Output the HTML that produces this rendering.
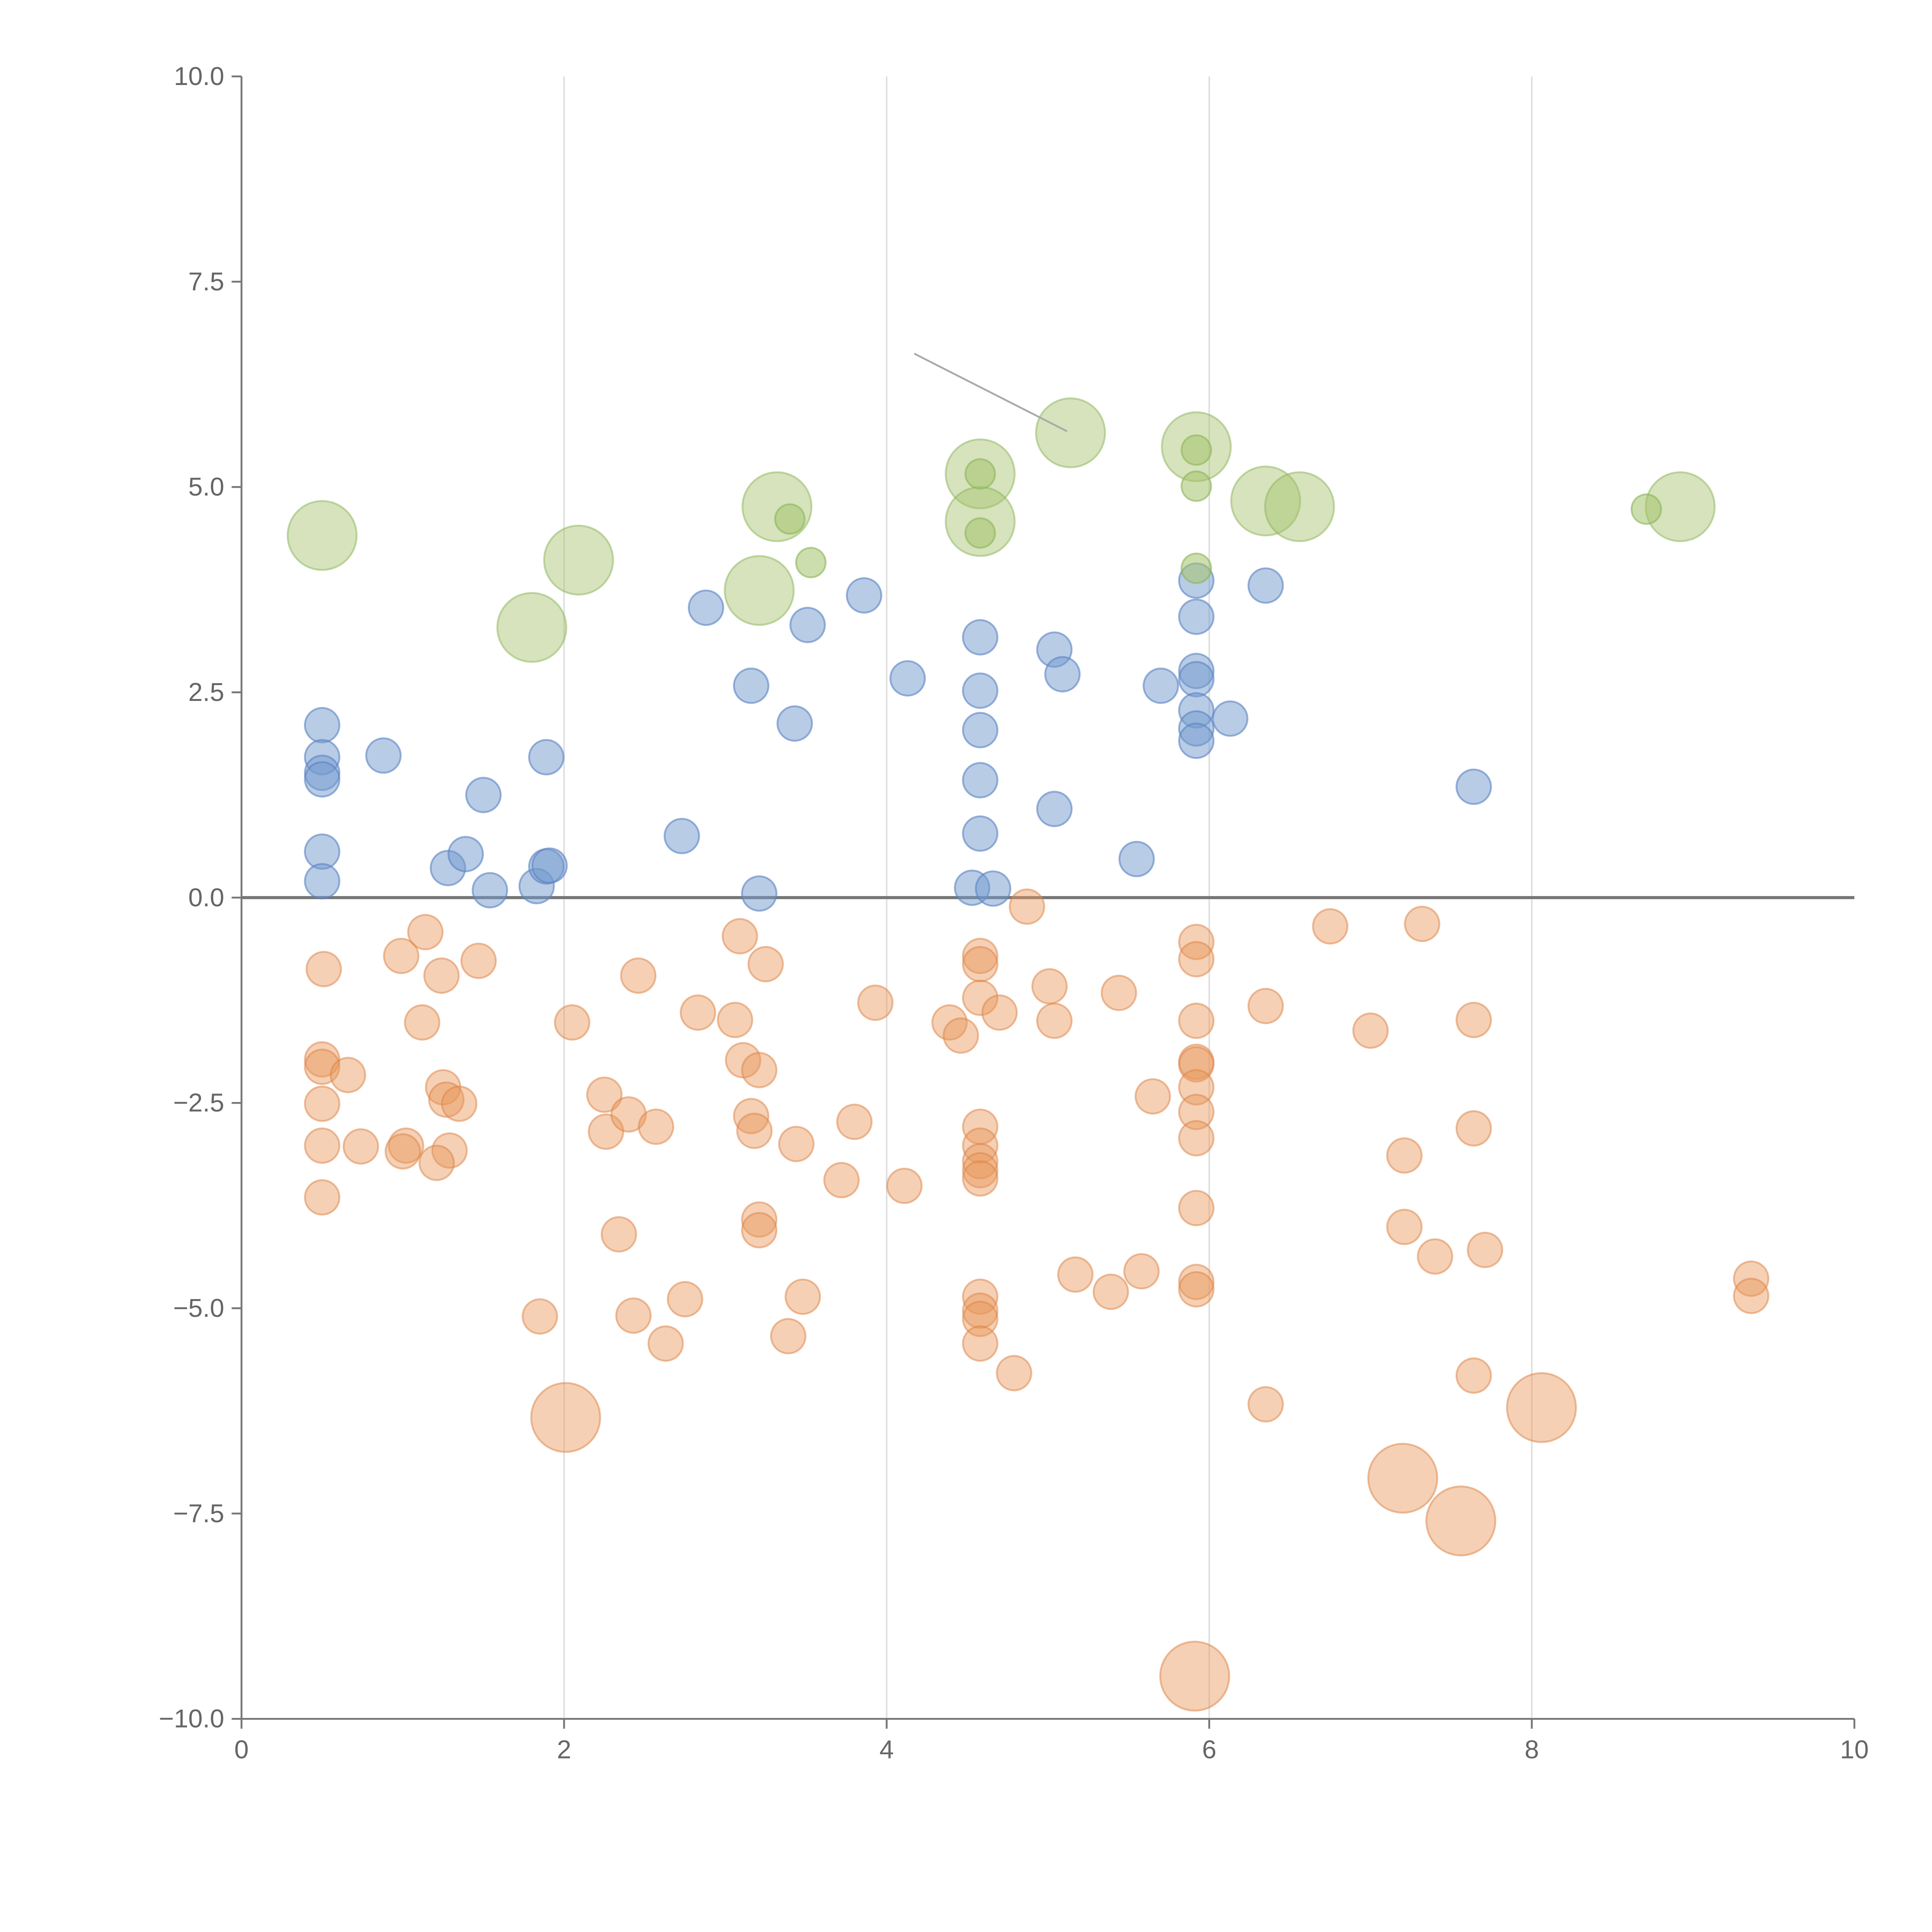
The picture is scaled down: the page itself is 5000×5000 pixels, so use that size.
<!DOCTYPE html>
<html><head><meta charset="utf-8"><style>
html,body{margin:0;padding:0;background:#fff}
svg{display:block}
text{font-family:"Liberation Sans",sans-serif;fill:#666;font-size:21px}
</style></head><body>
<svg id="chart" width="5000" height="5000" viewBox="0 0 1568 1568" xmlns="http://www.w3.org/2000/svg">
<g id="grid"></g>
<g id="axes"></g>
<g id="marks"></g>
</svg>
<script>
const xTicks=[0,2,4,6,8,10];
const yTicks=[10,7.5,5,2.5,0,-2.5,-5,-7.5,-10];
const greenBigX=[0.5,2.09,1.80,3.21,3.32,4.58,4.58,5.14,5.92,6.35,6.56,8.92];
const greenBigY=[4.41,4.11,3.29,3.74,4.76,5.16,4.58,5.66,5.49,4.83,4.76,4.76];
const greenSmallX=[3.40,3.53,4.58,4.58,5.92,5.92,5.92,8.71];
const greenSmallY=[4.61,4.08,5.16,4.44,5.45,5.01,4.01,4.73];
const blueX=[0.5,0.5,0.5,0.5,0.5,0.5,0.88,1.28,1.39,1.50,1.54,1.83,1.89,1.89,1.91,2.73,2.88,3.16,3.21,3.43,3.51,3.86,4.13,4.58,4.58,4.58,4.58,4.58,4.53,4.66,5.04,5.09,5.04,5.55,5.70,5.92,5.92,5.92,5.92,5.92,5.92,5.92,6.13,6.35,7.64];
const blueY=[2.10,1.71,1.52,1.44,0.56,0.20,1.73,0.36,0.53,1.25,0.09,0.14,1.71,0.38,0.39,0.75,3.53,2.58,0.05,2.12,3.32,3.68,2.67,3.17,2.52,2.04,1.43,0.78,0.12,0.11,3.02,2.72,1.08,0.47,2.58,3.86,3.42,2.76,2.66,2.28,2.06,1.91,2.18,3.80,1.35];
const orangeBigX=[2.01,5.91,7.20,7.56,8.06];
const orangeBigY=[-6.33,-9.48,-7.07,-7.59,-6.21];
const orangeX=[0.51,0.5,0.5,0.66,0.5,0.5,0.5,0.74,0.99,1.14,1.24,1.12,1.47,1.25,1.27,1.35,1.02,1.00,1.29,1.21,1.85,2.05,2.25,2.26,2.40,2.57,2.46,2.34,2.43,2.63,2.75,2.83,3.06,3.09,3.25,3.11,3.21,3.16,3.18,3.21,3.21,3.44,3.39,3.48,3.72,3.80,3.93,4.11,4.39,4.46,4.58,4.58,4.58,4.70,4.87,4.58,4.58,4.58,4.58,4.58,4.58,4.58,4.58,4.58,4.79,5.01,5.04,5.17,5.39,5.44,5.58,5.65,5.92,5.92,5.92,5.92,5.92,5.92,5.92,5.92,5.92,5.92,5.92,6.35,6.35,6.75,7.00,7.21,7.21,7.32,7.40,7.64,7.64,7.64,7.71,9.36,9.36];
const orangeY=[-0.87,-1.97,-2.06,-2.16,-2.51,-3.02,-3.65,-3.03,-0.71,-0.42,-0.95,-1.52,-0.77,-2.31,-2.46,-2.51,-3.02,-3.09,-3.08,-3.23,-5.10,-1.52,-2.40,-2.85,-2.64,-2.79,-0.95,-4.10,-5.09,-5.43,-4.89,-1.40,-1.49,-0.47,-0.81,-1.98,-2.10,-2.66,-2.84,-3.92,-4.05,-3.00,-5.34,-4.86,-3.44,-2.73,-1.28,-3.51,-1.52,-1.68,-0.71,-0.81,-1.22,-1.40,-0.11,-2.79,-3.02,-3.21,-3.32,-3.42,-4.86,-5.03,-5.13,-5.43,-5.79,-1.08,-1.50,-4.59,-4.80,-1.16,-4.55,-2.42,-0.54,-0.75,-1.50,-2.00,-2.03,-2.31,-2.61,-2.93,-3.78,-4.68,-4.77,-1.32,-6.17,-0.35,-1.62,-3.14,-4.01,-0.32,-4.37,-1.49,-2.81,-5.82,-4.29,-4.64,-4.85];

const NS='http://www.w3.org/2000/svg';
const X0=196,X1=1505,Y0=1395,Y1=62;
const sx=v=>X0+(v-0)/(10-0)*(X1-X0);
const sy=v=>Y0-(v+10)/20*(Y0-Y1);
function mk(tag,attrs,parent){const e=document.createElementNS(NS,tag);for(const k in attrs)e.setAttribute(k,attrs[k]);parent.appendChild(e);return e;}
const grid=document.getElementById('grid'),axes=document.getElementById('axes'),marks=document.getElementById('marks');

xTicks.forEach(t=>{
  if(t>0&&t<10){const g=mk('line',{x1:sx(t),x2:sx(t),y1:Y1,y2:Y0,stroke:'#ddd','stroke-width':1.2},grid);
  
  }
  const tk=mk('line',{x1:sx(t),x2:sx(t),y1:Y0,y2:Y0+8,stroke:'#777','stroke-width':1.5},axes);
  
  
  const tx=mk('text',{x:sx(t),y:Y0+32,'text-anchor':'middle'},axes);tx.textContent=String(t);
  
  
});
yTicks.forEach(t=>{
  const tk=mk('line',{x1:X0-8,x2:X0,y1:sy(t),y2:sy(t),stroke:'#777','stroke-width':1.5},axes);
  
  
  const tx=mk('text',{x:X0-14,y:sy(t)+7,'text-anchor':'end'},axes);tx.textContent=(t<0?'\u2212':'')+Math.abs(t).toFixed(1);
  
  
});
const xa=mk('line',{x1:X0,x2:X1,y1:Y0,y2:Y0,stroke:'#777','stroke-width':1.5},axes);


const ya=mk('line',{x1:X0,x2:X0,y1:Y1,y2:Y0,stroke:'#777','stroke-width':1.5},axes);


const zl=mk('line',{x1:X0,x2:X1,y1:sy(0),y2:sy(0),stroke:'#777','stroke-width':2.5},axes);



function series(xs,ys,r,fill,stroke,name){
  xs.forEach((x,i)=>{
    const c=mk('circle',{cx:sx(x),cy:sy(ys[i]),r:r,fill:fill,stroke:stroke,'stroke-width':1.5},marks);
    
    
  });
}
series(orangeX,orangeY,14,'rgba(232,150,88,0.45)','rgba(220,130,70,0.5)','orange-point');
series(orangeBigX,orangeBigY,28,'rgba(232,150,88,0.45)','rgba(220,130,70,0.5)','orange-large-point');
series(blueX,blueY,14,'rgba(114,153,206,0.5)','rgba(90,130,195,0.6)','blue-point');
series(greenBigX,greenBigY,28,'rgba(164,194,107,0.45)','rgba(140,180,90,0.5)','green-large-point');
series(greenSmallX,greenSmallY,12,'rgba(164,194,107,0.55)','rgba(140,180,90,0.6)','green-point');
const ann=mk('line',{x1:742,y1:287,x2:866,y2:350,stroke:'#aaa','stroke-width':1.5},marks);


</script>
</body></html>
